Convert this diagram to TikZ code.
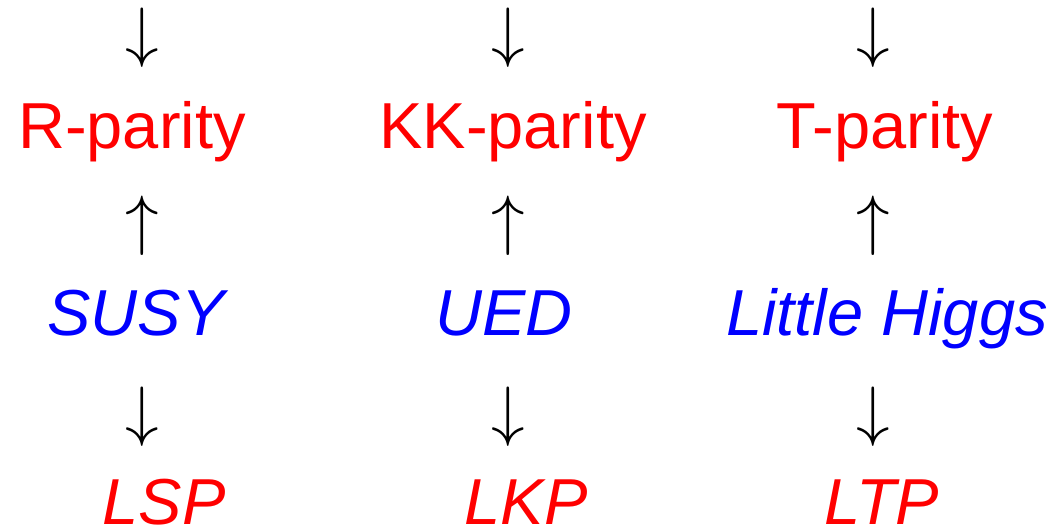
\RequirePackage{fix-cm}
\documentclass[tikz,border=0pt]{standalone}
\usepackage{fontspec}
\setmainfont{Liberation Sans}
\begin{document}
\begin{tikzpicture}[x=1pt,y=-1pt,
  every node/.style={inner sep=0pt, anchor=base},
  big/.style={font=\fontsize{65}{70}\selectfont},
  arr/.style={font=\fontsize{67}{70}\selectfont, text=black},
  parity/.style={big, text=red},
  model/.style={big, text=blue, font=\fontsize{65}{70}\selectfont\itshape},
  particle/.style={big, text=red, font=\fontsize{65}{70}\selectfont\itshape}]
\path[use as bounding box] (0,0) rectangle (1052,529);
% column 1
\node[arr] (a1) at (142,55) {$\downarrow$};
\node[parity] (p1) at (132,149) {R-parity};
\node[arr] (u1) at (142,243) {$\uparrow$};
\node[model] (m1) at (136,335) {SUSY};
\node[arr] (d1) at (142,433) {$\downarrow$};
\node[particle] (l1) at (164,524) {LSP};
% column 2
\node[arr] (a2) at (508,55) {$\downarrow$};
\node[parity] (p2) at (513,149) {KK-parity};
\node[arr] (u2) at (508,243) {$\uparrow$};
\node[model] (m2) at (504,335) {UED};
\node[arr] (d2) at (508,433) {$\downarrow$};
\node[particle] (l2) at (526,524) {LKP};
% column 3
\node[arr] (a3) at (873,55) {$\downarrow$};
\node[parity] (p3) at (885,149) {T-parity};
\node[arr] (u3) at (873,243) {$\uparrow$};
\node[model] (m3) at (887,335) {Little Higgs};
\node[arr] (d3) at (873,433) {$\downarrow$};
\node[particle] (l3) at (882,524) {LTP};
\end{tikzpicture}
\end{document}
